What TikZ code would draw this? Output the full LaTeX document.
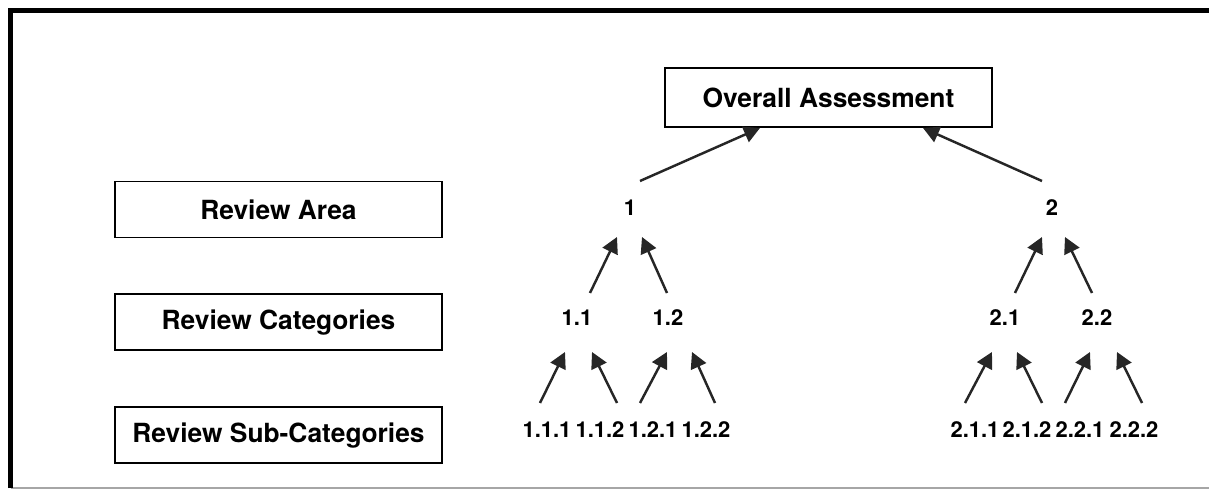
\documentclass[tikz,border=0pt]{standalone}
\usepackage{fontspec}
\setmainfont{TeX Gyre Heros}
\usetikzlibrary{arrows.meta, positioning}
\tikzstyle{levelbox} = [rectangle, minimum width=6.54cm, minimum height=1.12cm,
                        text centered, draw=black, line width=1.1pt,
                        font=\fontsize{15}{18}\selectfont\bfseries]
\tikzstyle{num}      = [inner sep=0pt, font=\fontsize{12.5}{15}\selectfont\bfseries]
\tikzstyle{arrow}    = [-{Triangle[length=0.32cm, width=0.33cm]}, line width=1.4pt, black!85]
\tikzstyle{frame}    = [line width=3pt, black]

\begin{document}
\begin{tikzpicture}
    \useasboundingbox (0,0) rectangle (24.18,-9.82);
    % frame
    \draw[gray!70, line width=0.9pt] (0.21,-9.76) -- (24.18,-9.76);
    \draw[frame] (0.21,-9.76) -- (0.21,-0.21) -- (24.18,-0.21);

    % level labels
    \node (overall) [levelbox, minimum height=1.18cm] at (16.57,-1.95) {Overall Assessment};
    \node (area) [levelbox] at (5.57,-4.19) {Review Area};
    \node (cat) [levelbox, below=1.1cm of area] {Review Categories};
    \node (subcat) [levelbox, below=1.1cm of cat] {Review Sub-Categories};

    % tree
    \node (n1) [num] at (12.60,-4.16) {1};
    \node (n2) [num] at (21.04,-4.16) {2};
    \node (n11) [num] at (11.54,-6.36) {1.1};
    \node (n12) [num] at (13.36,-6.36) {1.2};
    \node (n21) [num] at (20.10,-6.36) {2.1};
    \node (n22) [num] at (21.94,-6.36) {2.2};
    \node (n111) [num] at (10.94,-8.60) {1.1.1};
    \node (n112) [num] at (12.00,-8.60) {1.1.2};
    \node (n121) [num] at (13.06,-8.60) {1.2.1};
    \node (n122) [num] at (14.12,-8.60) {1.2.2};
    \node (n211) [num] at (19.50,-8.60) {2.1.1};
    \node (n212) [num] at (20.54,-8.60) {2.1.2};
    \node (n221) [num] at (21.60,-8.60) {2.2.1};
    \node (n222) [num] at (22.68,-8.60) {2.2.2};

    \draw[arrow] ([shift={(0.20,0.54)}]n1.center) -- ([xshift=-1.37cm]overall.south);
    \draw[arrow] ([shift={(-0.20,0.54)}]n2.center) -- ([xshift=1.89cm]overall.south);

    \draw[arrow] ([shift={(0.26,0.50)}]n11.center) -- ([shift={(-0.26,-0.58)}]n1.center);
    \draw[arrow] ([shift={(-0.02,0.50)}]n12.center) -- ([shift={(0.24,-0.58)}]n1.center);
    \draw[arrow] ([shift={(0.20,0.50)}]n21.center) -- ([shift={(-0.20,-0.58)}]n2.center);
    \draw[arrow] ([shift={(-0.10,0.50)}]n22.center) -- ([shift={(0.26,-0.58)}]n2.center);

    \draw[arrow] ([shift={(-0.14,0.54)}]n111.center) -- ([shift={(-0.24,-0.68)}]n11.center);
    \draw[arrow] ([shift={(0.34,0.54)}]n112.center) -- ([shift={(0.30,-0.68)}]n11.center);
    \draw[arrow] ([shift={(-0.26,0.54)}]n121.center) -- ([shift={(-0.02,-0.68)}]n12.center);
    \draw[arrow] ([shift={(0.18,0.54)}]n122.center) -- ([shift={(0.48,-0.68)}]n12.center);
    \draw[arrow] ([shift={(-0.20,0.54)}]n211.center) -- ([shift={(-0.26,-0.68)}]n21.center);
    \draw[arrow] ([shift={(0.30,0.54)}]n212.center) -- ([shift={(0.24,-0.68)}]n21.center);
    \draw[arrow] ([shift={(-0.30,0.54)}]n221.center) -- ([shift={(-0.14,-0.68)}]n22.center);
    \draw[arrow] ([shift={(0.16,0.54)}]n222.center) -- ([shift={(0.40,-0.68)}]n22.center);
\end{tikzpicture}
\end{document}
